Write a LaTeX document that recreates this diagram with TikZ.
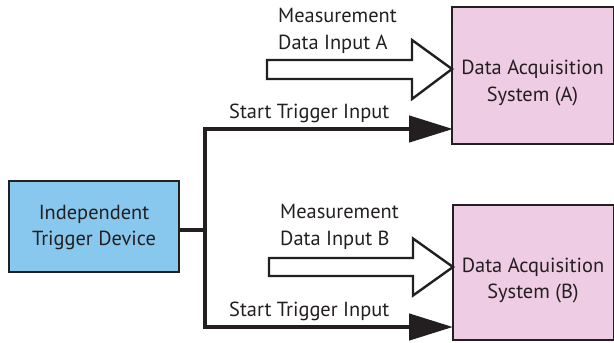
\documentclass[tikz,border=0pt]{standalone}
\usepackage{fontspec}
\setmainfont{PT Sans}
\usetikzlibrary{arrows.meta}
\definecolor{bluefill}{RGB}{136,200,238}
\definecolor{pinkfill}{RGB}{238,204,227}
\definecolor{inkc}{RGB}{35,31,32}
\tikzset{
  box/.style={draw=inkc, line width=2bp, inner sep=0pt},
  lbl/.style={inner sep=0pt, align=left, font=\fontsize{20.4bp}{26.5bp}\selectfont, text=inkc},
  boxtxt/.style={lbl, align=center},
  trigline/.style={draw=inkc, line width=4.6bp, line join=miter},
  trighead/.style={-{Triangle[length=44bp,width=26bp]}},
  hollow/.style={draw=inkc, fill=white, line width=2.4bp, line join=miter},
}
\begin{document}
\begin{tikzpicture}[x=1bp,y=-1bp]
\useasboundingbox (0,0) rectangle (614,342);
% boxes
\node[box, fill=bluefill, minimum width=170bp, minimum height=91bp] (trig) at (94,226) {};
\node[boxtxt] (trigtxt) at ([yshift=-1.5bp]trig.center) {Independent\\Trigger Device};
\node[box, fill=pinkfill, minimum width=162bp, minimum height=137bp] (daqA) at (532.5,75.5) {};
\node[boxtxt] (daqAtxt) at ([yshift=-7.5bp]daqA.center) {Data Acquisition\\System (A)};
\node[box, fill=pinkfill, minimum width=161bp, minimum height=135bp] (daqB) at (533,272.5) {};
\node[boxtxt] (daqBtxt) at ([yshift=-8bp]daqB.center) {Data Acquisition\\System (B)};
% labels
\node[lbl, anchor=west] (mA) at (278,31) {Measurement\\Data Input A};
\node[lbl, anchor=west] (mB) at (280,227) {Measurement\\Data Input B};
\node[lbl, anchor=west] (sA) at (229,113) {Start Trigger Input};
\node[lbl, anchor=west] (sB) at (229,311) {Start Trigger Input};
% trigger wiring
\coordinate (j) at (205,230);
\coordinate (ta) at (453,129);
\coordinate (tb) at (453,327);
\draw[trigline] (trig.east |- j) -- (j);
\draw[trigline, trighead] (j) |- (ta);
\draw[trigline, trighead] (j) |- (tb);
% hollow data arrows
\coordinate (tipA) at (452,69);
\coordinate (tipB) at (453,267);
\draw[hollow] (tipA) -- ++(-40,-29) -- ++(0,20) -- ++(-145,0) -- ++(0,19) -- ++(145,0) -- ++(0,20) -- cycle;
\draw[hollow] (tipB) -- ++(-40,-28.5) -- ++(0,19.5) -- ++(-144,0) -- ++(0,18) -- ++(144,0) -- ++(0,19.5) -- cycle;
\end{tikzpicture}
\end{document}
